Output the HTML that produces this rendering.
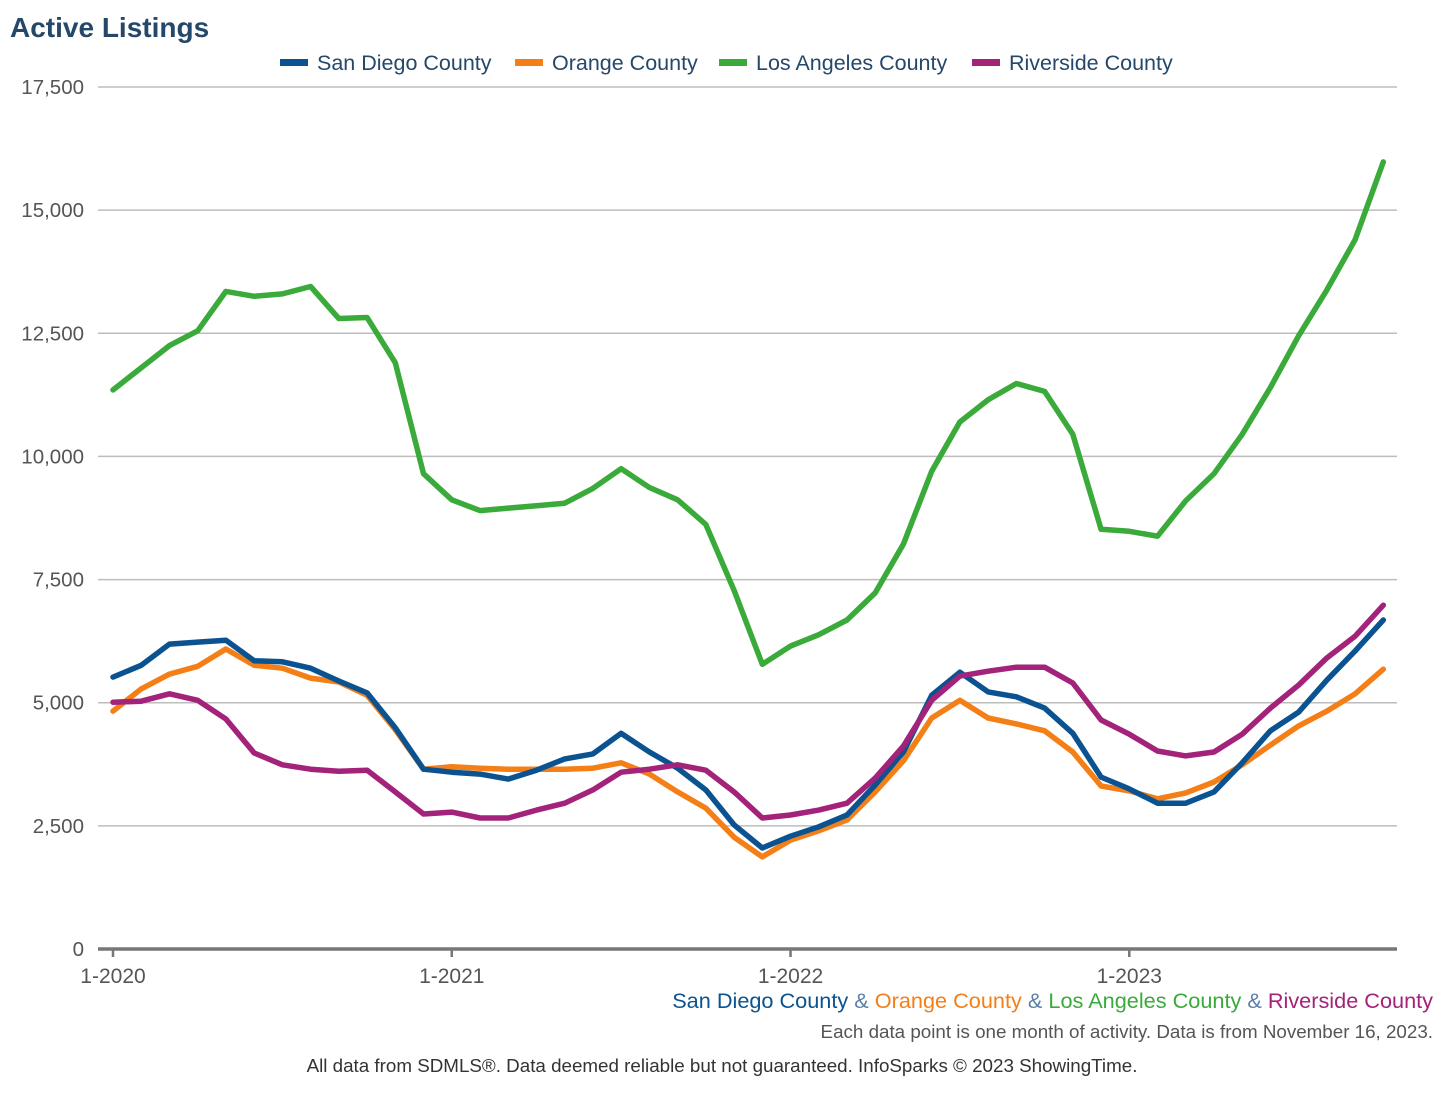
<!DOCTYPE html>
<html><head><meta charset="utf-8"><style>
html,body{margin:0;padding:0;background:#fff;}
svg{display:block;font-family:"Liberation Sans",Arial,sans-serif;}
</style></head><body>
<svg id="chart" width="1454" height="1102" viewBox="0 0 1454 1102">
<text x="10" y="37" font-size="28" font-weight="bold" fill="#25476a">Active Listings</text>
<g id="legend"></g>
<g id="grid"></g>
<g id="yaxis"></g>
<g id="xaxis"></g>
<g id="series"></g>
<text x="1433" y="1008" font-size="21.7" text-anchor="end"><tspan fill="#0b5390">San Diego County</tspan><tspan fill="#5a7fa8"> &amp; </tspan><tspan fill="#f57f17">Orange County</tspan><tspan fill="#5a7fa8"> &amp; </tspan><tspan fill="#3aaa3a">Los Angeles County</tspan><tspan fill="#5a7fa8"> &amp; </tspan><tspan fill="#a3227a">Riverside County</tspan></text>
<text x="1433" y="1038" font-size="18.8" text-anchor="end" fill="#555">Each data point is one month of activity. Data is from November 16, 2023.</text>
<text x="722" y="1072" font-size="18.8" text-anchor="middle" fill="#333">All data from SDMLS®. Data deemed reliable but not guaranteed. InfoSparks © 2023 ShowingTime.</text>
</svg>
<script>
const seriesNames = ["San Diego County","Orange County","Los Angeles County","Riverside County"];
const seriesColors = ["#0b5390","#f57f17","#3aaa3a","#a3227a"];
const sanDiego = [5520,5760,6190,6230,6270,5850,5830,5700,5440,5200,4490,3650,3590,3550,3450,3630,3860,3960,4380,4000,3670,3230,2520,2050,2290,2480,2720,3330,4000,5150,5620,5220,5120,4890,4380,3490,3250,2960,2960,3190,3780,4430,4810,5460,6050,6680];
const orange = [4830,5280,5580,5740,6090,5760,5700,5500,5420,5150,4450,3650,3700,3670,3650,3650,3650,3670,3780,3550,3190,2860,2270,1870,2210,2400,2620,3190,3820,4690,5050,4690,4570,4430,4000,3310,3210,3050,3170,3390,3740,4140,4530,4830,5180,5680];
const losAngeles = [11350,11800,12250,12550,13350,13250,13300,13450,12800,12820,11900,9650,9120,8900,8950,9000,9050,9350,9750,9370,9120,8620,7280,5780,6150,6380,6680,7230,8220,9700,10700,11150,11480,11320,10450,8520,8480,8380,9100,9650,10450,11400,12450,13380,14400,15980];
const riverside = [5010,5030,5180,5050,4670,3980,3740,3650,3610,3630,3190,2740,2780,2660,2660,2820,2960,3230,3590,3650,3740,3630,3190,2660,2720,2820,2960,3470,4120,5050,5540,5640,5720,5720,5400,4650,4360,4020,3920,4000,4360,4890,5360,5910,6350,6980];
const yTicks = [0,2500,5000,7500,10000,12500,15000,17500];
const xTickLabels = ["1-2020","1-2021","1-2022","1-2023"];
const xTickIndex = [0,12,24,36];

const NS="http://www.w3.org/2000/svg";
const x0=113, monthW=28.23, yBase=949, yTop=87, yMax=17500, plotL=98, plotR=1397;
function xs(i){return x0+i*monthW;}
function ys(v){return yBase-(v/yMax)*(yBase-yTop);}
function mk(tag,attrs,parent){const e=document.createElementNS(NS,tag);for(const k in attrs)e.setAttribute(k,attrs[k]);parent.appendChild(e);return e;}

const grid=document.getElementById('grid'), yaxis=document.getElementById('yaxis'), xaxis=document.getElementById('xaxis'), series=document.getElementById('series'), legend=document.getElementById('legend');
yTicks.forEach(v=>{
  if(v>0){const l=mk('line',{x1:plotL,x2:plotR,y1:ys(v),y2:ys(v),stroke:'#bdbdbd','stroke-width':1.5},grid);
  
  }
  const t=mk('text',{x:84,y:ys(v)+7,'text-anchor':'end','font-size':20.5,fill:'#555'},yaxis);
  t.textContent=v.toLocaleString('en-US');
  
  
});
const base=mk('line',{x1:plotL,x2:plotR,y1:yBase,y2:yBase,stroke:'#777','stroke-width':3.5},xaxis);


xTickIndex.forEach((idx,k)=>{
  const tk=mk('line',{x1:xs(idx),x2:xs(idx),y1:yBase,y2:yBase+8,stroke:'#777','stroke-width':2.5},xaxis);
  
  
  const t=mk('text',{x:xs(idx),y:yBase+34,'text-anchor':'middle','font-size':21,fill:'#555'},xaxis);
  t.textContent=xTickLabels[k];
  
  
});
const allData=[sanDiego,orange,losAngeles,riverside];
const drawOrder=[2,1,0,3];
drawOrder.forEach(s=>{
  const d=allData[s].map((v,i)=>(i?'L':'M')+xs(i).toFixed(1)+','+ys(v).toFixed(1)).join(' ');
  const p=mk('path',{d:d,fill:'none',stroke:seriesColors[s],'stroke-width':5.5,'stroke-linejoin':'round','stroke-linecap':'round'},series);
  
  
});
const legX=[280,515,719,972];
seriesNames.forEach((n,s)=>{
  const g=mk('g',{},legend);
  
  
  mk('rect',{x:legX[s],y:59,width:28,height:7,fill:seriesColors[s]},g);
  const t=mk('text',{x:legX[s]+37,y:70,'font-size':21.5,fill:'#25476a'},g);
  t.textContent=n;
});
</script>
</body></html>
